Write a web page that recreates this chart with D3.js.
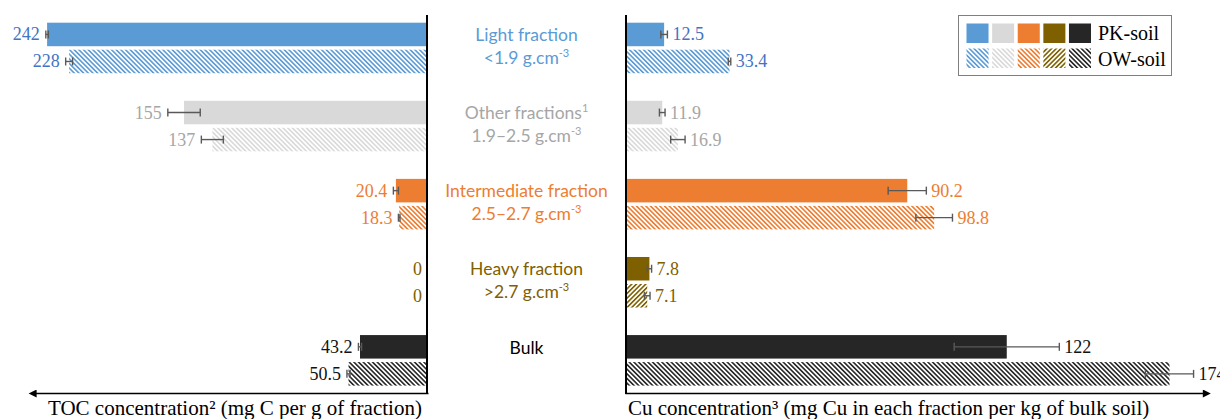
<!DOCTYPE html>
<html>
<head>
<meta charset="utf-8">
<script src="https://cdn.jsdelivr.net/npm/d3@7"></script>
<style>
  body { margin: 0; background: #fff; }
  svg { display: block; }
</style>
</head>
<body>
<svg id="chart" width="1220" height="419"></svg>
<script>
// Density fractions: TOC (left, bars grow leftwards) vs Cu (right)
const FRACTIONS = ["Light", "Other", "Intermediate", "Heavy", "Bulk"];
const SOILS = ["PK-soil", "OW-soil"];

const TOC_PK = [242, 155, 20.4, 0, 43.2];
const TOC_OW = [228, 137, 18.3, 0, 50.5];
const TOC_PK_ERR = [0.8, 10.3, 1.6, 0, 1];
const TOC_OW_ERR = [2.2, 7, 0.5, 0, 1];

const CU_PK = [12.5, 11.9, 90.2, 7.8, 122];
const CU_OW = [33.4, 16.9, 98.8, 7.1, 174];
const CU_PK_ERR = [1.05, 0.9, 6.1, 0.7, 16.8];
const CU_OW_ERR = [0.4, 2.3, 5.85, 0.9, 7.7];

const VALUE_LABELS_TOC_PK = ["242", "155", "20.4", "0", "43.2"];
const VALUE_LABELS_TOC_OW = ["228", "137", "18.3", "0", "50.5"];
const VALUE_LABELS_CU_PK = ["12.5", "11.9", "90.2", "7.8", "122"];
const VALUE_LABELS_CU_OW = ["33.4", "16.9", "98.8", "7.1", "174"];

// [main text, superscript] per line
const CENTER_LABELS = [
  [["Light fraction", ""], ["<1.9 g.cm", "-3"]],
  [["Other fractions", "1"], ["1.9\u20132.5 g.cm", "-3"]],
  [["Intermediate fraction", ""], ["2.5\u20132.7 g.cm", "-3"]],
  [["Heavy fraction", ""], [">2.7 g.cm", "-3"]],
  [["Bulk", ""]],
];

const FILLS = ["#5B9BD5", "#D9D9D9", "#ED7D31", "#7F6000", "#262626"];
const VALUE_TEXT = ["#4472C4", "#A6A6A6", "#ED7D31", "#7F6000", "#111111"];
const CENTER_TEXT = ["#5B9BD5", "#A6A6A6", "#ED7D31", "#7F6000", "#000000"];
const HATCH_ANGLE = [-45, -45, -45, 45, -45];

const SERIF = "'Liberation Serif', 'Times New Roman', serif";
const SANS = "Lato, 'Open Sans', sans-serif";

const svg = d3.select("#chart");
const defs = svg.append("defs");

// hatch patterns for OW-soil
FILLS.forEach((c, i) => {
  const p = defs
    .append("pattern")
    .attr("id", `hatch-${i}`)
    .attr("patternUnits", "userSpaceOnUse")
    .attr("width", 3.3)
    .attr("height", 10)
    .attr("patternTransform", `rotate(${HATCH_ANGLE[i]})`);
  p.append("rect").attr("width", 3.3).attr("height", 10).attr("fill", "#fff");
  p.append("rect").attr("width", 1.6).attr("height", 10).attr("fill", c);
});

defs
  .append("marker")
  .attr("id", "arrow")
  .attr("viewBox", "0 0 10 10")
  .attr("refX", 2)
  .attr("refY", 5)
  .attr("markerWidth", 6)
  .attr("markerHeight", 5)
  .attr("markerUnits", "strokeWidth")
  .attr("orient", "auto")
  .append("path")
  .attr("d", "M0,0L10,5L0,10z")
  .attr("fill", "#000");

const y0 = d3.scaleBand().domain(FRACTIONS).range([22.7, 385.6]).paddingInner(0.353);
const y1 = d3.scaleBand().domain(SOILS).range([0, y0.bandwidth()]).paddingInner(0.13);
const xL = d3.scaleLinear().domain([0, 250]).range([428, 34.5]);
const xR = d3.scaleLinear().domain([0, 185]).range([625, 1203.9]);

function rows(pk, ow, pkErr, owErr, pkLab, owLab) {
  return FRACTIONS.flatMap((f, i) => [
    { f, i, soil: SOILS[0], v: pk[i], e: pkErr[i], lab: pkLab[i] },
    { f, i, soil: SOILS[1], v: ow[i], e: owErr[i], lab: owLab[i] },
  ]);
}
const tocData = rows(TOC_PK, TOC_OW, TOC_PK_ERR, TOC_OW_ERR, VALUE_LABELS_TOC_PK, VALUE_LABELS_TOC_OW);
const cuData = rows(CU_PK, CU_OW, CU_PK_ERR, CU_OW_ERR, VALUE_LABELS_CU_PK, VALUE_LABELS_CU_OW);

const fillOf = (d) => (d.soil === SOILS[0] ? FILLS[d.i] : `url(#hatch-${d.i})`);
const yOf = (d) => y0(d.f) + y1(d.soil);
const midOf = (d) => yOf(d) + y1.bandwidth() / 2;

function drawPanel(data, x, side) {
  const g = svg.append("g");
  g.selectAll("rect.bar")
    .data(data.filter((d) => d.v > 0))
    .join("rect")
    .attr("class", "bar")
    .attr("x", (d) => Math.min(x(0), x(d.v)))
    .attr("y", yOf)
    .attr("width", (d) => Math.abs(x(d.v) - x(0)))
    .attr("height", y1.bandwidth())
    .attr("fill", fillOf);

  const eb = g.selectAll("g.err").data(data.filter((d) => d.e > 0)).join("g").attr("class", "err")
    .attr("stroke", "#595959").attr("stroke-width", 1.4);
  eb.append("line")
    .attr("x1", (d) => x(d.v - d.e)).attr("x2", (d) => x(d.v + d.e))
    .attr("y1", midOf).attr("y2", midOf);
  eb.append("line")
    .attr("x1", (d) => x(d.v - d.e)).attr("x2", (d) => x(d.v - d.e))
    .attr("y1", (d) => midOf(d) - 4).attr("y2", (d) => midOf(d) + 4);
  eb.append("line")
    .attr("x1", (d) => x(d.v + d.e)).attr("x2", (d) => x(d.v + d.e))
    .attr("y1", (d) => midOf(d) - 4).attr("y2", (d) => midOf(d) + 4);

  g.selectAll("text.val")
    .data(data)
    .join("text")
    .attr("class", "val")
    .attr("x", (d) => x(d.v + d.e) + (side === "left" ? -6 : 5))
    .attr("y", (d) => midOf(d) + 6)
    .attr("text-anchor", side === "left" ? "end" : "start")
    .attr("font-family", SERIF)
    .attr("font-size", 18)
    .attr("fill", (d) => VALUE_TEXT[d.i])
    .text((d) => d.lab);
}

drawPanel(tocData, xL, "left");
drawPanel(cuData, xR, "right");

// axes: no ticks, only the domain line with an arrow
const axisY = 393;
const axL = svg.append("g").attr("transform", `translate(0,${axisY})`)
  .call(d3.axisBottom(xL).tickValues([]).tickSizeOuter(0));
const axR = svg.append("g").attr("transform", `translate(0,${axisY})`)
  .call(d3.axisBottom(xR).tickValues([]).tickSizeOuter(0));
[axL, axR].forEach((a) =>
  a.select(".domain").attr("stroke", "#000").attr("stroke-width", 1.6).attr("marker-end", "url(#arrow)")
);

svg.append("line").attr("x1", 427).attr("x2", 427).attr("y1", 15).attr("y2", axisY + 1)
  .attr("stroke", "#000").attr("stroke-width", 2);
svg.append("line").attr("x1", 626).attr("x2", 626).attr("y1", 15).attr("y2", axisY + 1)
  .attr("stroke", "#000").attr("stroke-width", 2);

// axis titles
svg.append("text").attr("x", 48).attr("y", 415)
  .attr("font-family", SERIF).attr("font-size", 21).attr("fill", "#000")
  .text("TOC concentration\u00b2 (mg C per g of fraction)");
svg.append("text").attr("x", 628).attr("y", 415)
  .attr("font-family", SERIF).attr("font-size", 21).attr("fill", "#000")
  .text("Cu concentration\u00b3 (mg Cu in each fraction per kg of bulk soil)");

// fraction labels in the middle
const midX = (426 + 627) / 2;
CENTER_LABELS.forEach((lines, i) => {
  lines.forEach(([txt, sup], j) => {
    const t = svg.append("text")
      .attr("x", midX)
      .attr("y", y0(FRACTIONS[i]) + 18.5 + j * 23)
      .attr("text-anchor", "middle")
      .attr("font-family", SANS)
      .attr("font-size", 17.5)
      .attr("fill", CENTER_TEXT[i]);
    t.append("tspan").text(txt);
    if (sup) t.append("tspan").attr("dy", -7).attr("font-size", 11).text(sup);
  });
});

// legend
const lg = svg.append("g").attr("transform", "translate(958,15)");
lg.append("rect").attr("x", 0.5).attr("y", 0.5).attr("width", 213).attr("height", 60)
  .attr("fill", "#fff").attr("stroke", "#7f7f7f").attr("stroke-width", 1);
const lx = d3.scaleBand().domain(d3.range(FILLS.length)).range([8.5, 133]).paddingInner(0.14);
lg.selectAll("rect.pk").data(FILLS).join("rect").attr("class", "pk")
  .attr("x", (c, i) => lx(i)).attr("y", 8.5).attr("width", lx.bandwidth()).attr("height", 19.5)
  .attr("fill", (c) => c);
lg.selectAll("rect.ow").data(FILLS).join("rect").attr("class", "ow")
  .attr("x", (c, i) => lx(i)).attr("y", 33.5).attr("width", lx.bandwidth()).attr("height", 19.5)
  .attr("fill", (c, i) => `url(#hatch-${i})`);
lg.selectAll("text").data(SOILS).join("text")
  .attr("x", 140).attr("y", (s, i) => 25 + i * 26)
  .attr("font-family", SERIF).attr("font-size", 20).attr("fill", "#000")
  .text((s) => s);
</script>
</body>
</html>
